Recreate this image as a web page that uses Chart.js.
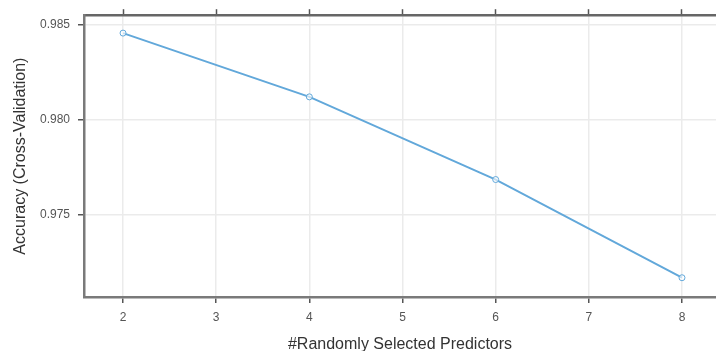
<!DOCTYPE html>
<html>
<head>
<meta charset="utf-8">
<script src="https://cdn.jsdelivr.net/npm/chart.js@4"></script>
<style>
  html, body { margin: 0; padding: 0; background: #fff; overflow: hidden; }
  #wrap { width: 716px; height: 351px; }
</style>
</head>
<body>
<div id="wrap"><canvas id="chart"></canvas></div>
<script>
const predictors = [2, 4, 6, 8];
const accuracy = [0.98458, 0.98121, 0.97684, 0.97165];
const xTicks = [2, 3, 4, 5, 6, 7, 8];
const yTicks = [0.975, 0.980, 0.985];

const lineColor = '#62a8da';
const tickFont = { family: 'Liberation Sans, Arial, sans-serif', size: 12 };
const titleFont = { family: 'Liberation Sans, Arial, sans-serif', size: 16 };

const ctx = document.getElementById('chart').getContext('2d');
new Chart(ctx, {
  type: 'line',
  data: {
    datasets: [{
      data: predictors.map((x, i) => ({ x: x, y: accuracy[i] })),
      borderColor: lineColor,
      borderWidth: 2,
      pointRadius: 3,
      pointBorderWidth: 1,
      pointBorderColor: lineColor,
      pointBackgroundColor: 'rgba(255,255,255,0.6)',
      tension: 0
    }]
  },
  options: {
    responsive: true,
    maintainAspectRatio: false,
    animation: false,
    layout: { padding: 0, autoPadding: false },
    plugins: { legend: { display: false }, tooltip: { enabled: false } },
    scales: {
      x: {
        type: 'linear',
        position: 'bottom',
        min: 1.581,
        max: 8.365,
        afterBuildTicks: s => { s.ticks = xTicks.map(v => ({ value: v })); },
        afterFit: s => { s.height = 54; },
        grid: { color: '#ebebeb', lineWidth: 1.5, tickColor: '#555', tickLength: 6, tickWidth: 1.5 },
        border: { color: '#7a7a7a', width: 2.5 },
        ticks: { font: tickFont, color: '#555', padding: 7, maxRotation: 0 },
        title: { display: true, text: '#Randomly Selected Predictors', font: titleFont, color: '#333', padding: { top: 0, bottom: -3 } }
      },
      x2: {
        type: 'linear',
        position: 'top',
        min: 1.581,
        max: 8.365,
        afterBuildTicks: s => { s.ticks = xTicks.map(v => ({ value: v })); },
        afterFit: s => { s.height = 14; },
        grid: { drawOnChartArea: false, tickColor: '#555', tickLength: 6, tickWidth: 1.5 },
        border: { color: '#666', width: 2.5 },
        ticks: { display: false }
      },
      y: {
        type: 'linear',
        position: 'left',
        min: 0.970632,
        max: 0.985526,
        afterBuildTicks: s => { s.ticks = yTicks.map(v => ({ value: v })); },
        afterFit: s => { s.width = 84; },
        grid: { color: '#ebebeb', lineWidth: 1.5, tickColor: '#555', tickLength: 6, tickWidth: 1.5 },
        border: { color: '#7a7a7a', width: 2.5 },
        ticks: { font: tickFont, color: '#555', padding: 8, callback: v => v.toFixed(3) },
        title: { display: true, text: 'Accuracy (Cross-Validation)', font: titleFont, color: '#333', padding: { top: 11, bottom: 0 } }
      }
    }
  }
});
</script>
</body>
</html>
